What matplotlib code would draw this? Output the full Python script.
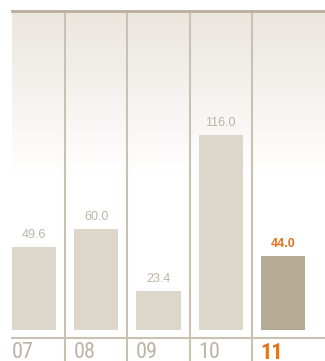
import numpy as np
import matplotlib
matplotlib.use('Agg')
import matplotlib.pyplot as plt
from matplotlib.colors import LinearSegmentedColormap
from matplotlib.transforms import blended_transform_factory

years = ["07", "08", "09", "10", "11"]
values = [49.6, 60.0, 23.4, 116.0, 44.0]
value_labels = ["49.6", "60.0", "23.4", "116.0", "44.0"]

BAR = "#ddd6cb"
BAR_HI = "#b5aa94"
ORANGE = "#e8731e"
LINE = "#cbc1b3"
TEXT = "#bdb4a7"
FONT = ["Liberation Sans", "DejaVu Sans"]
NARROW = ["Liberation Sans Narrow", "Roboto Condensed", "Open Sans Condensed", "Liberation Sans"]

W, H = 325, 361
fig = plt.figure(figsize=(W / 100, H / 100), dpi=100)
ax = fig.add_axes([12 / W, 1 - 338 / H, 1 - 12 / W, (338 - 11) / H])

x = np.arange(len(years))
ax.set_xlim(-0.355, 4.677)
ax.set_ylim(-4.8, 190)

# soft beige fade at the top of the panel
grad = np.linspace(0, 1, 256).reshape(-1, 1)
cmap = LinearSegmentedColormap.from_list("fade", ["#ffffff", "#ffffff", "#ebe6de"])
ax.imshow(grad, aspect="auto", cmap=cmap, extent=(-0.355, 4.677, -4.8, 190),
          origin="lower", zorder=0)

colors = [BAR] * 4 + [BAR_HI]
ax.bar(x, values, width=0.71, color=colors, zorder=2)

for i, (v, lab) in enumerate(zip(values, value_labels)):
    last = i == len(values) - 1
    ax.text(i, v + 3.6, lab, ha="center", va="bottom", fontsize=9,
            color=ORANGE if last else TEXT,
            fontweight="bold" if last else "normal", family=FONT, zorder=3)

# column separators run past the baseline to the bottom edge
for sep in x[:-1] + 0.5:
    ax.axvline(sep, ymin=-0.08, ymax=1, color=LINE, lw=1.5, clip_on=False, zorder=1)
ax.axhline(190, color="#b8ae9e", lw=2, clip_on=False, zorder=3)
ax.axhline(-4.8, color=LINE, lw=1.5, clip_on=False, zorder=3)

trans = blended_transform_factory(ax.transData, ax.transAxes)
for i, yr in enumerate(years):
    last = i == len(years) - 1
    ax.text(i - 0.36, -0.012, yr, transform=trans, ha="left", va="top",
            fontsize=16, color=ORANGE if last else TEXT,
            fontweight="bold" if last else "normal", family=NARROW)

for s in ax.spines.values():
    s.set_visible(False)
ax.set_xticks([])
ax.set_yticks([])

fig.savefig("out.png", dpi=100)
